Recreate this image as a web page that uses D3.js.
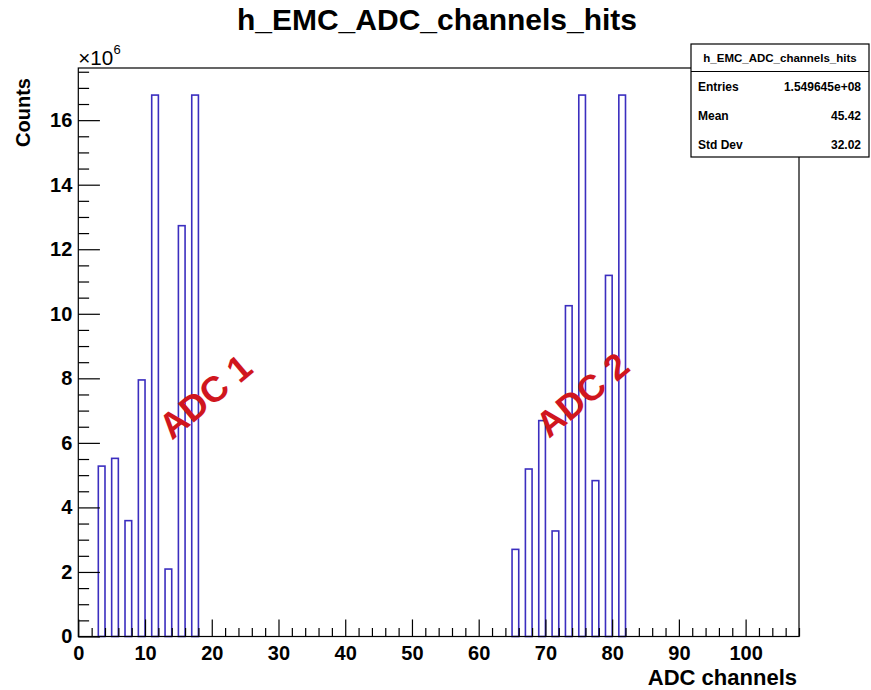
<!DOCTYPE html>
<html>
<head>
<meta charset="utf-8">
<script src="https://cdn.jsdelivr.net/npm/d3@7/dist/d3.min.js"></script>
<style>
  html, body { margin: 0; padding: 0; background: #fff; }
  svg { display: block; }
  text { font-family: "Liberation Sans", Arial, Helvetica, sans-serif; }
</style>
</head>
<body>
<svg id="chart" width="871" height="690"></svg>
<script>
// ---- data ----
const chartTitle = "h_EMC_ADC_channels_hits";
const xTitle = "ADC channels";
const yTitle = "Counts";
// lower edges of the filled bins (bin width 1)
const binLow = [3, 5, 7, 9, 11, 13, 15, 17, 65, 67, 69, 71, 73, 75, 77, 79, 81];
// counts per bin
const binCounts = [5280000, 5520000, 3590000, 7950000, 16777216, 2090000, 12730000, 16777216,
                   2700000, 5190000, 6690000, 3270000, 10250000, 16777216, 4830000, 11190000, 16777216];
const xDomain = [0, 108];
const xMajorTicks = [0, 10, 20, 30, 40, 50, 60, 70, 80, 90, 100];
const yMajorTicks = [0, 2, 4, 6, 8, 10, 12, 14, 16];   // in units of 10^6
const statsLabels = ["Entries", "Mean", "Std Dev"];
const statsValues = ["1.549645e+08", "45.42", "32.02"];
const annotations = ["ADC 1", "ADC 2"];
const annotationX = [19.0, 75.5];     // data coords of label centres
const annotationY = [7.45, 7.5];      // in 10^6

// ---- layout ----
const svg = d3.select("#chart");
const frame = { left: 78.3, right: 799, top: 68, bottom: 636.5 };
const yMax = d3.max(binCounts) / 1e6 * 1.05;

const x = d3.scaleLinear().domain(xDomain).range([frame.left, frame.right]);
const y = d3.scaleLinear().domain([0, yMax]).range([frame.bottom, frame.top]);

const fw = frame.right - frame.left, fh = frame.bottom - frame.top;
const xTickLen = 0.03 * fh, yTickLen = 0.03 * fw;
const barColor = "#3b2ebf";

// histogram bars (outlined)
svg.append("g").selectAll("rect")
  .data(binLow.map((b, i) => ({ lo: b, v: binCounts[i] / 1e6 })))
  .join("rect")
  .attr("x", d => x(d.lo))
  .attr("width", d => x(d.lo + 1) - x(d.lo))
  .attr("y", d => y(d.v))
  .attr("height", d => y(0) - y(d.v))
  .attr("fill", "none")
  .attr("stroke", barColor)
  .attr("stroke-width", 1.6);

// frame
svg.append("rect")
  .attr("x", frame.left).attr("y", frame.top)
  .attr("width", fw).attr("height", fh)
  .attr("fill", "none").attr("stroke", "#000").attr("stroke-width", 1.2);

// x axis minor ticks
const xMinor = d3.range(0, 108.01, 2).filter(v => v % 10 !== 0);
svg.append("g").attr("transform", `translate(0,${frame.bottom})`)
  .call(d3.axisBottom(x).tickValues(xMinor).tickSize(-xTickLen / 2).tickSizeOuter(0).tickFormat(""))
  .call(g => g.select(".domain").remove())
  .call(g => g.selectAll("line").attr("stroke", "#000").attr("stroke-width", 1.2));
// x axis major ticks
svg.append("g").attr("transform", `translate(0,${frame.bottom})`)
  .call(d3.axisBottom(x).tickValues(xMajorTicks).tickSize(-xTickLen).tickSizeOuter(0).tickPadding(9).tickFormat(d3.format("d")))
  .call(g => g.select(".domain").remove())
  .call(g => g.selectAll("line").attr("stroke", "#000").attr("stroke-width", 1.2))
  .call(g => g.selectAll("text").attr("font-size", 20).attr("font-weight", "bold").attr("fill", "#000")
    .attr("font-family", "'Liberation Sans', Arial, sans-serif"));

// y axis minor ticks
const yMinor = d3.range(0, yMax, 0.5).filter(v => v % 2 !== 0);
svg.append("g").attr("transform", `translate(${frame.left},0)`)
  .call(d3.axisLeft(y).tickValues(yMinor).tickSize(-yTickLen / 2).tickSizeOuter(0).tickFormat(""))
  .call(g => g.select(".domain").remove())
  .call(g => g.selectAll("line").attr("stroke", "#000").attr("stroke-width", 1.2));
// y axis major ticks
svg.append("g").attr("transform", `translate(${frame.left},0)`)
  .call(d3.axisLeft(y).tickValues(yMajorTicks).tickSize(-yTickLen).tickSizeOuter(0).tickPadding(6).tickFormat(d3.format("d")))
  .call(g => g.select(".domain").remove())
  .call(g => g.selectAll("line").attr("stroke", "#000").attr("stroke-width", 1.2))
  .call(g => g.selectAll("text").attr("font-size", 20).attr("font-weight", "bold").attr("fill", "#000")
    .attr("font-family", "'Liberation Sans', Arial, sans-serif"));

// exponent label
svg.append("text").attr("x", frame.left).attr("y", 64.5).attr("font-size", 20)
  .attr("textLength", 35).attr("lengthAdjust", "spacingAndGlyphs").text("\u00d710");
svg.append("text").attr("x", 113.5).attr("y", 53.5).attr("font-size", 13).text("6");

// titles
svg.append("text").attr("x", 437).attr("y", 30).attr("text-anchor", "middle")
  .attr("font-size", 30).attr("font-weight", "bold").text(chartTitle);
svg.append("text").attr("x", 797).attr("y", 685).attr("text-anchor", "end")
  .attr("font-size", 22).attr("font-weight", "bold").text(xTitle);
svg.append("text").attr("transform", "translate(30,78) rotate(-90)").attr("text-anchor", "end")
  .attr("font-size", 20).attr("font-weight", "bold").text(yTitle);

// stats box
const sb = { x: 691, y: 44, w: 178, h: 113, split: 71.5 };
svg.append("rect").attr("x", sb.x).attr("y", sb.y).attr("width", sb.w).attr("height", sb.h)
  .attr("fill", "#fff").attr("stroke", "#000").attr("stroke-width", 1.2);
svg.append("line").attr("x1", sb.x).attr("x2", sb.x + sb.w).attr("y1", sb.split).attr("y2", sb.split)
  .attr("stroke", "#000").attr("stroke-width", 1.2);
svg.append("text").attr("x", sb.x + sb.w / 2).attr("y", 62).attr("text-anchor", "middle")
  .attr("font-size", 11.5).attr("font-weight", "bold").text(chartTitle);
const rowY = [91, 120, 149];
statsLabels.forEach((l, i) => {
  svg.append("text").attr("x", 698).attr("y", rowY[i]).attr("font-size", 12).attr("font-weight", "bold").text(l);
  svg.append("text").attr("x", 861).attr("y", rowY[i]).attr("text-anchor", "end")
    .attr("font-size", 12).attr("font-weight", "bold").text(statsValues[i]);
});

// annotations
annotations.forEach((t, i) => {
  svg.append("text")
    .attr("transform", `translate(${x(annotationX[i])},${y(annotationY[i])}) rotate(-40)`)
    .attr("text-anchor", "middle").attr("dy", "0.36em")
    .attr("font-size", 36).attr("font-weight", "bold").attr("fill", "#d0161e").text(t);
});
</script>
</body>
</html>
